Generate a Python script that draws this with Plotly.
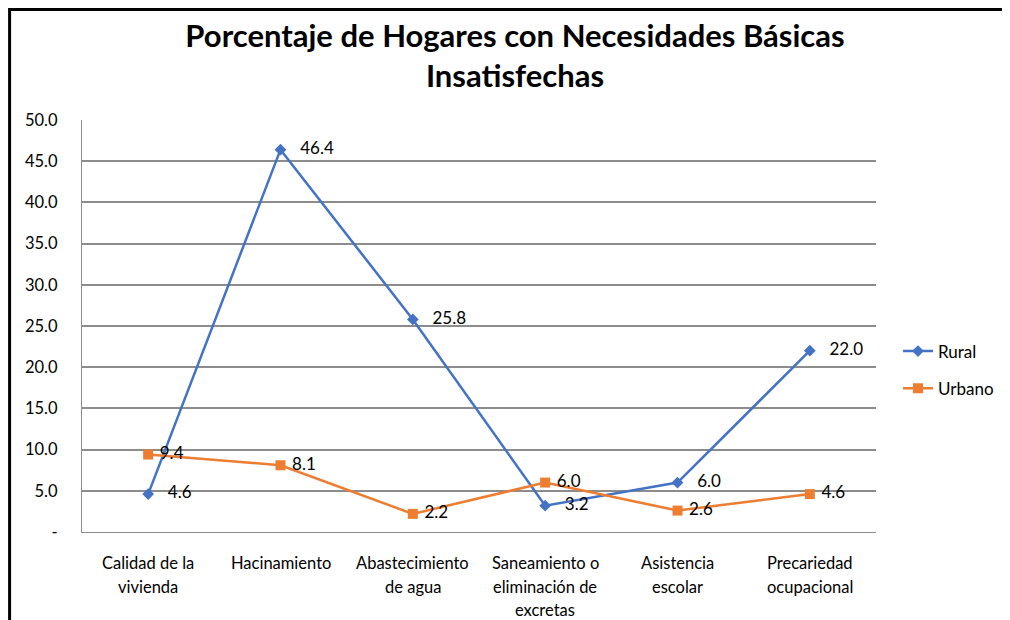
import plotly.graph_objects as go

categories = ["Calidad de la<br>vivienda", "Hacinamiento", "Abastecimiento<br>de agua",
              "Saneamiento o<br>eliminación de<br>excretas", "Asistencia<br>escolar",
              "Precariedad<br>ocupacional"]
rural = [4.6, 46.4, 25.8, 3.2, 6.0, 22.0]
urbano = [9.4, 8.1, 2.2, 6.0, 2.6, 4.6]
ytick_vals = [0, 5, 10, 15, 20, 25, 30, 35, 40, 45, 50]
ytick_text = ["-", "5.0", "10.0", "15.0", "20.0", "25.0", "30.0", "35.0", "40.0", "45.0", "50.0"]

FONT = "Lato"
OFF = 8  # page body margin
W, H = 1010 - OFF, 620 - OFF
L = 82 - OFF
T = 120 - OFF
R = W - (877 - OFF)
B = H - (532 - OFF)
pw, ph = W - L - R, H - T - B

x_idx = list(range(len(categories)))

fig = go.Figure()
fig.add_trace(go.Scatter(
    x=x_idx, y=rural, name="Rural", mode="lines+markers+text",
    line=dict(color="#4472C4", width=2.5),
    marker=dict(symbol="diamond", size=9, color="#4472C4"),
    text=[f"\u00a0\u00a0\u00a0{v:.1f}" for v in rural], textposition="middle right",
    textfont=dict(family=FONT, size=17, color="#000000"),
    legendgroup="r",
))
fig.add_trace(go.Scatter(
    x=x_idx, y=urbano, name="Urbano", mode="lines+markers+text",
    line=dict(color="#ED7D31", width=2.5),
    marker=dict(symbol="square", size=10, color="#ED7D31"),
    text=[f"\u00a0{v:.1f}" for v in urbano], textposition="middle right",
    textfont=dict(family=FONT, size=17, color="#000000"),
    legendgroup="u",
))

annotations = []
for i, cat in enumerate(categories):
    for j, line in enumerate(cat.split("<br>")):
        annotations.append(dict(
            x=i, y=0, xref="x", yref="y", text=line, showarrow=False,
            yshift=-31 - 23.5 * j, yanchor="middle", xanchor="center",
            font=dict(family=FONT, size=16.5, color="#000000"),
        ))

def px2x(px):
    return (px - OFF - L) / pw

def py2y(py):
    return (H - B - (py - OFF)) / ph

shapes = [
    dict(type="line", xref="paper", yref="paper", x0=px2x(9.5), x1=px2x(1012),
         y0=py2y(9.5), y1=py2y(9.5), line=dict(color="#000000", width=3)),
    dict(type="line", xref="paper", yref="paper", x0=px2x(9.5), x1=px2x(9.5),
         y0=py2y(8), y1=py2y(625), line=dict(color="#000000", width=3)),
]

fig.update_layout(
    width=W, height=H,
    margin=dict(l=L, r=R, t=T, b=B),
    paper_bgcolor="#ffffff", plot_bgcolor="#ffffff",
    font=dict(family=FONT, size=16, color="#000000"),
    title=dict(text="<b>Porcentaje de Hogares con Necesidades Básicas<br>Insatisfechas</b>",
               x=(515 - OFF) / W, xref="container", xanchor="center",
               y=1 - (47 - OFF) / H, yref="container", yanchor="middle",
               font=dict(family=FONT, size=31, color="#000000")),
    xaxis=dict(range=[-0.5, 5.5], showticklabels=False, showgrid=False, zeroline=False,
               showline=True, linecolor="#8c8c8c", linewidth=1.3, ticks=""),
    yaxis=dict(range=[0, 50], tickvals=ytick_vals, ticktext=ytick_text,
               showgrid=True, gridcolor="#8c8c8c", gridwidth=1.5, zeroline=False,
               showline=True, linecolor="#8c8c8c", linewidth=1.3, ticks="",
               ticklabelstandoff=20, tickfont=dict(family=FONT, size=16.5)),
    legend=dict(x=px2x(898), y=py2y(370), xanchor="left", yanchor="middle",
                font=dict(family=FONT, size=17), tracegroupgap=12,
                bgcolor="rgba(0,0,0,0)"),
    annotations=annotations,
    shapes=shapes,
)

fig.write_html("out.html")
